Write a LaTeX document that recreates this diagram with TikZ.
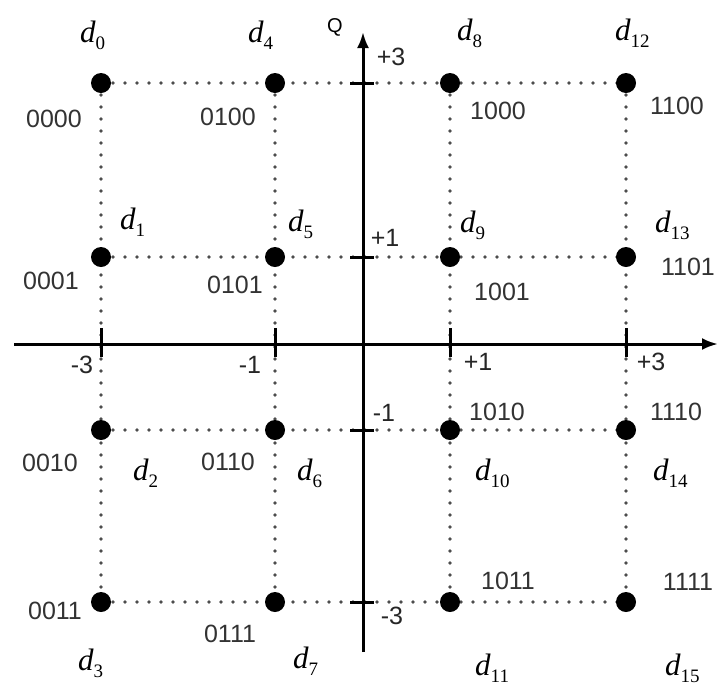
\documentclass[tikz,border=0pt]{standalone}
\usepackage{fontspec}
\setmainfont{Liberation Serif}
\setsansfont{Liberation Sans}
\usetikzlibrary{arrows.meta,backgrounds}
\newcommand{\dsym}[1]{{\fontsize{31}{31}\selectfont\itshape d}\raisebox{-7pt}{\fontsize{19}{19}\selectfont #1}}
\tikzset{
  pt/.style={circle,fill=black,draw=none,minimum size=20pt,inner sep=0pt},
  gridline/.style={line width=3.6pt,black!70,dash pattern=on 0pt off 12pt,line cap=round},
  axis/.style={line width=3pt,black},
  tick/.style={line width=3pt,black},
  code/.style={font=\sffamily\fontsize{25}{25}\selectfont,text=black!80,inner sep=0pt},
  alab/.style={font=\sffamily\fontsize{25}{25}\selectfont,text=black!85,inner sep=0pt},
  dlab/.style={anchor=base west,inner sep=0pt},
}
\begin{document}
\begin{tikzpicture}[x=1pt,y=-1pt]
\useasboundingbox[fill=white] (0,0) rectangle (727,689);
% grid positions
\coordinate (c0) at (101,83);  \coordinate (c4) at (275,83);  \coordinate (c8) at (450,83);  \coordinate (c12) at (626,83);
\coordinate (c1) at (101,257); \coordinate (c5) at (275,257); \coordinate (c9) at (450,257); \coordinate (c13) at (626,257);
\coordinate (c2) at (101,430); \coordinate (c6) at (275,430); \coordinate (c10) at (450,430); \coordinate (c14) at (626,430);
\coordinate (c3) at (101,602); \coordinate (c7) at (275,602); \coordinate (c11) at (450,602); \coordinate (c15) at (626,602);
% dotted grid
\draw[gridline] (c0) -- (c12);
\draw[gridline] (c1) -- (c13);
\draw[gridline] (c2) -- (c14);
\draw[gridline] (c3) -- (c15);
\draw[gridline] (c0) -- (c3);
\draw[gridline] (c4) -- (c7);
\draw[gridline] (c8) -- (c11);
\draw[gridline] (c12) -- (c15);
% axes
\coordinate (xl) at (14,344);
\coordinate (xr) at (718,344);
\coordinate (yb) at (363,652);
\coordinate (yt) at (363,32);
\draw[axis,-{Latex[length=16pt,width=12pt]}] (xl) -- (xr);
\draw[axis,-{Latex[length=16pt,width=12pt]}] (yb) -- (yt);
% ticks on I axis
\foreach \x in {101,275,450,626} \draw[tick] (\x,328) -- (\x,357);
% ticks on Q axis
\foreach \y in {83,257,430,602} \draw[tick] (350,\y) -- (374,\y);
% constellation points
\foreach \i in {0,...,15} \node[pt] (p\i) at (c\i) {};
% axis labels
\node[font=\sffamily\fontsize{20}{20}\selectfont,inner sep=0pt] (q) at (335,27) {Q};
\node[alab] (q3) at (391,57) {+3};
\node[alab] (q1) at (385,238) {+1};
\node[alab] (qm1) at (384,413) {-1};
\node[alab] (qm3) at (392,616) {-3};
\node[alab] (im3) at (82,365) {-3};
\node[alab] (im1) at (250,365) {-1};
\node[alab] (i1) at (478,362) {+1};
\node[alab] (i3) at (651,362) {+3};
% bit codes
\node[code] (b0) at (54,119) {0000};
\node[code] (b4) at (228,117) {0100};
\node[code] (b8) at (498,111) {1000};
\node[code] (b12) at (677,106) {1100};
\node[code] (b1) at (51,281) {0001};
\node[code] (b5) at (235,285) {0101};
\node[code] (b9) at (502,292) {1001};
\node[code] (b13) at (688,267) {1101};
\node[code] (b2) at (50,463) {0010};
\node[code] (b6) at (228,462) {0110};
\node[code] (b10) at (497,412) {1010};
\node[code] (b14) at (676,412) {1110};
\node[code] (b3) at (55,611) {0011};
\node[code] (b7) at (230,634) {0111};
\node[code] (b11) at (508,581) {1011};
\node[code] (b15) at (688,582) {1111};
% symbol names
\node[dlab] (d0) at (80,42) {\dsym{0}};
\node[dlab] (d4) at (248,42) {\dsym{4}};
\node[dlab] (d8) at (457,40) {\dsym{8}};
\node[dlab] (d12) at (615,40) {\dsym{12}};
\node[dlab] (d1) at (120,229) {\dsym{1}};
\node[dlab] (d5) at (288,231) {\dsym{5}};
\node[dlab] (d9) at (460,232) {\dsym{9}};
\node[dlab] (d13) at (655,232) {\dsym{13}};
\node[dlab] (d2) at (133,480) {\dsym{2}};
\node[dlab] (d6) at (297,480) {\dsym{6}};
\node[dlab] (d10) at (475,480) {\dsym{10}};
\node[dlab] (d14) at (653,480) {\dsym{14}};
\node[dlab] (d3) at (78,670) {\dsym{3}};
\node[dlab] (d7) at (293,668) {\dsym{7}};
\node[dlab] (d11) at (475,675) {\dsym{11}};
\node[dlab] (d15) at (665,675) {\dsym{15}};
\end{tikzpicture}
\end{document}
